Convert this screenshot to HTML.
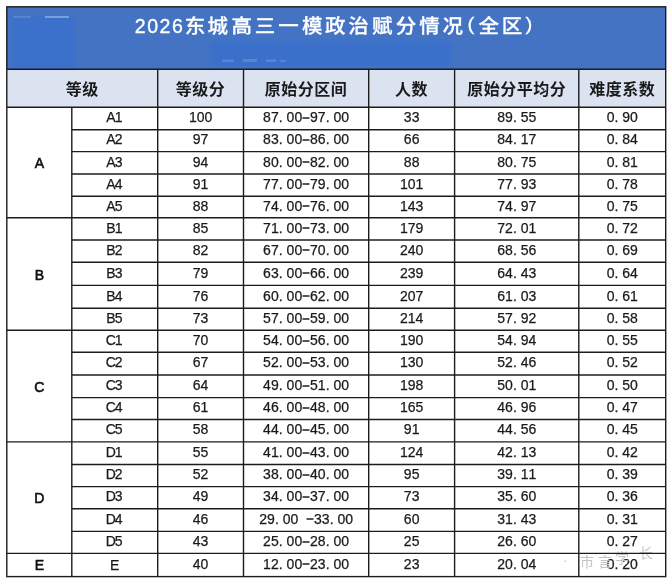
<!DOCTYPE html><html><head><meta charset="utf-8"><style>
html,body{margin:0;padding:0;background:#fff;width:672px;height:583px;overflow:hidden}
svg{display:block}
.t{font-family:"Liberation Sans","Noto Sans CJK SC",sans-serif;fill:#fff;font-size:19.5px}
.tc{font-family:"Liberation Sans","Noto Sans CJK SC",sans-serif;fill:#fff;font-size:19px;font-weight:500}
.h{font-family:"Liberation Sans","Noto Sans CJK SC",sans-serif;font-weight:bold;fill:#1a1a1a;font-size:16px;letter-spacing:0.5px}
.n{font-family:"Liberation Sans","Noto Sans CJK SC",sans-serif;fill:#1a1a1a;font-size:14px;stroke:#1a1a1a;stroke-width:0.25px}
.g{font-family:"Liberation Sans","Noto Sans CJK SC",sans-serif;fill:#111;font-size:14px;stroke:#111;stroke-width:0.6px}
.hy{font-family:IPAGothic,"Noto Sans CJK JP",sans-serif;font-size:16px;stroke-width:0.3px}
.w{font-family:"Liberation Sans","Noto Sans CJK SC",sans-serif;fill:#c4c4c4;font-size:14px}
</style></head><body>
<svg width="672" height="583" viewBox="0 0 672 583">
<rect x="6.8" y="6.8" width="658.9000000000001" height="62.5" fill="#4373c2"/>
<rect x="6.8" y="69.3" width="658.9000000000001" height="37.900000000000006" fill="#dce3f0"/>
<defs><filter id="bl" x="-20%" y="-20%" width="140%" height="140%"><feGaussianBlur stdDeviation="1.5"/></filter><filter id="bl2" x="-50%" y="-100%" width="200%" height="300%"><feGaussianBlur stdDeviation="0.7"/></filter></defs>
<rect x="12" y="16.5" width="63" height="51.5" fill="#3a6fcb" filter="url(#bl)"/>
<rect x="13" y="16.2" width="18" height="1.4" fill="#9fbcec" opacity="0.35" filter="url(#bl2)"/>
<rect x="45" y="16.2" width="24" height="1.6" fill="#a9c3ee" opacity="0.7" filter="url(#bl2)"/>
<rect x="209" y="41" width="243" height="25" rx="9" fill="#3b6fca" filter="url(#bl)"/>
<g fill="#c9d8f3" opacity="0.2" filter="url(#bl2)"><rect x="222" y="59.5" width="12" height="2.5"/><rect x="243" y="59" width="14" height="3"/><rect x="266" y="59.5" width="10" height="2.5"/><rect x="280" y="60" width="6" height="2"/></g>
<text class="t" stroke="#fff" stroke-width="0.35" y="32.7" x="134.83 147.13 159.43 171.93">2026</text>
<text class="tc" stroke="#fff" stroke-width="0.25" transform="scale(1.08 1)" y="33.1 33.1 33.1 33.1 33.1 33.1 33.1 33.1 33.1 33.1 33.1 33.1 30.4 33.1 33.1 30.4" x="171.04 192.03 214.30 235.78 257.54 279.57 300.96 322.44 344.48 366.43 388.09 409.81 432.86 442.95 464.67 486.55">东城高三一模政治赋分情况(全区)</text>
<text class="h" x="82.2" y="95" text-anchor="middle">等级</text>
<text class="h" x="200.6" y="95" text-anchor="middle">等级分</text>
<text class="h" x="306.1" y="95" text-anchor="middle">原始分区间</text>
<text class="h" x="411.6" y="95" text-anchor="middle">人数</text>
<text class="h" x="516.7" y="95" text-anchor="middle">原始分平均分</text>
<text class="h" x="622.2" y="95" text-anchor="middle">难度系数</text>
<text class="n" x="106.17 114.77" y="122.15" xml:space="preserve">A1</text>
<text class="n" x="188.89 196.71 204.53" y="122.15" xml:space="preserve">100</text>
<text class="n" x="263.11 270.93 278.83 286.57 294.39 302.10 310.03 317.85 325.75 333.49 341.31" y="122.15" xml:space="preserve">87.00<tspan class="hy" dy="1.6">-</tspan><tspan dy="-1.6">9</tspan>7.00</text>
<text class="n" x="403.85 411.67" y="122.15" xml:space="preserve">33</text>
<text class="n" x="497.17 504.99 512.89 520.63 528.45" y="122.15" xml:space="preserve">89.55</text>
<text class="n" x="606.63 614.53 622.27 630.09" y="122.15" xml:space="preserve">0.90</text>
<text class="n" x="106.17 114.77" y="144.35" xml:space="preserve">A2</text>
<text class="n" x="192.80 200.62" y="144.35" xml:space="preserve">97</text>
<text class="n" x="263.11 270.93 278.83 286.57 294.39 302.10 310.03 317.85 325.75 333.49 341.31" y="144.35" xml:space="preserve">83.00<tspan class="hy" dy="1.6">-</tspan><tspan dy="-1.6">8</tspan>6.00</text>
<text class="n" x="403.85 411.67" y="144.35" xml:space="preserve">66</text>
<text class="n" x="497.17 504.99 512.89 520.63 528.45" y="144.35" xml:space="preserve">84.17</text>
<text class="n" x="606.63 614.53 622.27 630.09" y="144.35" xml:space="preserve">0.84</text>
<text class="n" x="106.17 114.77" y="166.50" xml:space="preserve">A3</text>
<text class="n" x="192.80 200.62" y="166.50" xml:space="preserve">94</text>
<text class="n" x="263.11 270.93 278.83 286.57 294.39 302.10 310.03 317.85 325.75 333.49 341.31" y="166.50" xml:space="preserve">80.00<tspan class="hy" dy="1.6">-</tspan><tspan dy="-1.6">8</tspan>2.00</text>
<text class="n" x="403.85 411.67" y="166.50" xml:space="preserve">88</text>
<text class="n" x="497.17 504.99 512.89 520.63 528.45" y="166.50" xml:space="preserve">80.75</text>
<text class="n" x="606.63 614.53 622.27 630.09" y="166.50" xml:space="preserve">0.81</text>
<text class="n" x="106.17 114.77" y="188.85" xml:space="preserve">A4</text>
<text class="n" x="192.80 200.62" y="188.85" xml:space="preserve">91</text>
<text class="n" x="263.11 270.93 278.83 286.57 294.39 302.10 310.03 317.85 325.75 333.49 341.31" y="188.85" xml:space="preserve">77.00<tspan class="hy" dy="1.6">-</tspan><tspan dy="-1.6">7</tspan>9.00</text>
<text class="n" x="399.94 407.76 415.58" y="188.85" xml:space="preserve">101</text>
<text class="n" x="497.17 504.99 512.89 520.63 528.45" y="188.85" xml:space="preserve">77.93</text>
<text class="n" x="606.63 614.53 622.27 630.09" y="188.85" xml:space="preserve">0.78</text>
<text class="n" x="106.17 114.77" y="210.70" xml:space="preserve">A5</text>
<text class="n" x="192.80 200.62" y="210.70" xml:space="preserve">88</text>
<text class="n" x="263.11 270.93 278.83 286.57 294.39 302.10 310.03 317.85 325.75 333.49 341.31" y="210.70" xml:space="preserve">74.00<tspan class="hy" dy="1.6">-</tspan><tspan dy="-1.6">7</tspan>6.00</text>
<text class="n" x="399.94 407.76 415.58" y="210.70" xml:space="preserve">143</text>
<text class="n" x="497.17 504.99 512.89 520.63 528.45" y="210.70" xml:space="preserve">74.97</text>
<text class="n" x="606.63 614.53 622.27 630.09" y="210.70" xml:space="preserve">0.75</text>
<text class="n" x="106.17 114.77" y="232.55" xml:space="preserve">B1</text>
<text class="n" x="192.80 200.62" y="232.55" xml:space="preserve">85</text>
<text class="n" x="263.11 270.93 278.83 286.57 294.39 302.10 310.03 317.85 325.75 333.49 341.31" y="232.55" xml:space="preserve">71.00<tspan class="hy" dy="1.6">-</tspan><tspan dy="-1.6">7</tspan>3.00</text>
<text class="n" x="399.94 407.76 415.58" y="232.55" xml:space="preserve">179</text>
<text class="n" x="497.17 504.99 512.89 520.63 528.45" y="232.55" xml:space="preserve">72.01</text>
<text class="n" x="606.63 614.53 622.27 630.09" y="232.55" xml:space="preserve">0.72</text>
<text class="n" x="106.17 114.77" y="254.85" xml:space="preserve">B2</text>
<text class="n" x="192.80 200.62" y="254.85" xml:space="preserve">82</text>
<text class="n" x="263.11 270.93 278.83 286.57 294.39 302.10 310.03 317.85 325.75 333.49 341.31" y="254.85" xml:space="preserve">67.00<tspan class="hy" dy="1.6">-</tspan><tspan dy="-1.6">7</tspan>0.00</text>
<text class="n" x="399.94 407.76 415.58" y="254.85" xml:space="preserve">240</text>
<text class="n" x="497.17 504.99 512.89 520.63 528.45" y="254.85" xml:space="preserve">68.56</text>
<text class="n" x="606.63 614.53 622.27 630.09" y="254.85" xml:space="preserve">0.69</text>
<text class="n" x="106.17 114.77" y="277.55" xml:space="preserve">B3</text>
<text class="n" x="192.80 200.62" y="277.55" xml:space="preserve">79</text>
<text class="n" x="263.11 270.93 278.83 286.57 294.39 302.10 310.03 317.85 325.75 333.49 341.31" y="277.55" xml:space="preserve">63.00<tspan class="hy" dy="1.6">-</tspan><tspan dy="-1.6">6</tspan>6.00</text>
<text class="n" x="399.94 407.76 415.58" y="277.55" xml:space="preserve">239</text>
<text class="n" x="497.17 504.99 512.89 520.63 528.45" y="277.55" xml:space="preserve">64.43</text>
<text class="n" x="606.63 614.53 622.27 630.09" y="277.55" xml:space="preserve">0.64</text>
<text class="n" x="106.17 114.77" y="300.50" xml:space="preserve">B4</text>
<text class="n" x="192.80 200.62" y="300.50" xml:space="preserve">76</text>
<text class="n" x="263.11 270.93 278.83 286.57 294.39 302.10 310.03 317.85 325.75 333.49 341.31" y="300.50" xml:space="preserve">60.00<tspan class="hy" dy="1.6">-</tspan><tspan dy="-1.6">6</tspan>2.00</text>
<text class="n" x="399.94 407.76 415.58" y="300.50" xml:space="preserve">207</text>
<text class="n" x="497.17 504.99 512.89 520.63 528.45" y="300.50" xml:space="preserve">61.03</text>
<text class="n" x="606.63 614.53 622.27 630.09" y="300.50" xml:space="preserve">0.61</text>
<text class="n" x="106.17 114.77" y="322.90" xml:space="preserve">B5</text>
<text class="n" x="192.80 200.62" y="322.90" xml:space="preserve">73</text>
<text class="n" x="263.11 270.93 278.83 286.57 294.39 302.10 310.03 317.85 325.75 333.49 341.31" y="322.90" xml:space="preserve">57.00<tspan class="hy" dy="1.6">-</tspan><tspan dy="-1.6">5</tspan>9.00</text>
<text class="n" x="399.94 407.76 415.58" y="322.90" xml:space="preserve">214</text>
<text class="n" x="497.17 504.99 512.89 520.63 528.45" y="322.90" xml:space="preserve">57.92</text>
<text class="n" x="606.63 614.53 622.27 630.09" y="322.90" xml:space="preserve">0.58</text>
<text class="n" x="105.79 114.77" y="344.95" xml:space="preserve">C1</text>
<text class="n" x="192.80 200.62" y="344.95" xml:space="preserve">70</text>
<text class="n" x="263.11 270.93 278.83 286.57 294.39 302.10 310.03 317.85 325.75 333.49 341.31" y="344.95" xml:space="preserve">54.00<tspan class="hy" dy="1.6">-</tspan><tspan dy="-1.6">5</tspan>6.00</text>
<text class="n" x="399.94 407.76 415.58" y="344.95" xml:space="preserve">190</text>
<text class="n" x="497.17 504.99 512.89 520.63 528.45" y="344.95" xml:space="preserve">54.94</text>
<text class="n" x="606.63 614.53 622.27 630.09" y="344.95" xml:space="preserve">0.55</text>
<text class="n" x="105.79 114.77" y="367.35" xml:space="preserve">C2</text>
<text class="n" x="192.80 200.62" y="367.35" xml:space="preserve">67</text>
<text class="n" x="263.11 270.93 278.83 286.57 294.39 302.10 310.03 317.85 325.75 333.49 341.31" y="367.35" xml:space="preserve">52.00<tspan class="hy" dy="1.6">-</tspan><tspan dy="-1.6">5</tspan>3.00</text>
<text class="n" x="399.94 407.76 415.58" y="367.35" xml:space="preserve">130</text>
<text class="n" x="497.17 504.99 512.89 520.63 528.45" y="367.35" xml:space="preserve">52.46</text>
<text class="n" x="606.63 614.53 622.27 630.09" y="367.35" xml:space="preserve">0.52</text>
<text class="n" x="105.79 114.77" y="390.00" xml:space="preserve">C3</text>
<text class="n" x="192.80 200.62" y="390.00" xml:space="preserve">64</text>
<text class="n" x="263.11 270.93 278.83 286.57 294.39 302.10 310.03 317.85 325.75 333.49 341.31" y="390.00" xml:space="preserve">49.00<tspan class="hy" dy="1.6">-</tspan><tspan dy="-1.6">5</tspan>1.00</text>
<text class="n" x="399.94 407.76 415.58" y="390.00" xml:space="preserve">198</text>
<text class="n" x="497.17 504.99 512.89 520.63 528.45" y="390.00" xml:space="preserve">50.01</text>
<text class="n" x="606.63 614.53 622.27 630.09" y="390.00" xml:space="preserve">0.50</text>
<text class="n" x="105.79 114.77" y="412.25" xml:space="preserve">C4</text>
<text class="n" x="192.80 200.62" y="412.25" xml:space="preserve">61</text>
<text class="n" x="263.11 270.93 278.83 286.57 294.39 302.10 310.03 317.85 325.75 333.49 341.31" y="412.25" xml:space="preserve">46.00<tspan class="hy" dy="1.6">-</tspan><tspan dy="-1.6">4</tspan>8.00</text>
<text class="n" x="399.94 407.76 415.58" y="412.25" xml:space="preserve">165</text>
<text class="n" x="497.17 504.99 512.89 520.63 528.45" y="412.25" xml:space="preserve">46.96</text>
<text class="n" x="606.63 614.53 622.27 630.09" y="412.25" xml:space="preserve">0.47</text>
<text class="n" x="105.79 114.77" y="434.40" xml:space="preserve">C5</text>
<text class="n" x="192.80 200.62" y="434.40" xml:space="preserve">58</text>
<text class="n" x="263.11 270.93 278.83 286.57 294.39 302.10 310.03 317.85 325.75 333.49 341.31" y="434.40" xml:space="preserve">44.00<tspan class="hy" dy="1.6">-</tspan><tspan dy="-1.6">4</tspan>5.00</text>
<text class="n" x="403.85 411.67" y="434.40" xml:space="preserve">91</text>
<text class="n" x="497.17 504.99 512.89 520.63 528.45" y="434.40" xml:space="preserve">44.56</text>
<text class="n" x="606.63 614.53 622.27 630.09" y="434.40" xml:space="preserve">0.45</text>
<text class="n" x="105.79 114.77" y="456.90" xml:space="preserve">D1</text>
<text class="n" x="192.80 200.62" y="456.90" xml:space="preserve">55</text>
<text class="n" x="263.11 270.93 278.83 286.57 294.39 302.10 310.03 317.85 325.75 333.49 341.31" y="456.90" xml:space="preserve">41.00<tspan class="hy" dy="1.6">-</tspan><tspan dy="-1.6">4</tspan>3.00</text>
<text class="n" x="399.94 407.76 415.58" y="456.90" xml:space="preserve">124</text>
<text class="n" x="497.17 504.99 512.89 520.63 528.45" y="456.90" xml:space="preserve">42.13</text>
<text class="n" x="606.63 614.53 622.27 630.09" y="456.90" xml:space="preserve">0.42</text>
<text class="n" x="105.79 114.77" y="479.25" xml:space="preserve">D2</text>
<text class="n" x="192.80 200.62" y="479.25" xml:space="preserve">52</text>
<text class="n" x="263.11 270.93 278.83 286.57 294.39 302.10 310.03 317.85 325.75 333.49 341.31" y="479.25" xml:space="preserve">38.00<tspan class="hy" dy="1.6">-</tspan><tspan dy="-1.6">4</tspan>0.00</text>
<text class="n" x="403.85 411.67" y="479.25" xml:space="preserve">95</text>
<text class="n" x="497.17 504.99 512.89 520.63 528.45" y="479.25" xml:space="preserve">39.11</text>
<text class="n" x="606.63 614.53 622.27 630.09" y="479.25" xml:space="preserve">0.39</text>
<text class="n" x="105.79 114.77" y="501.35" xml:space="preserve">D3</text>
<text class="n" x="192.80 200.62" y="501.35" xml:space="preserve">49</text>
<text class="n" x="263.11 270.93 278.83 286.57 294.39 302.10 310.03 317.85 325.75 333.49 341.31" y="501.35" xml:space="preserve">34.00<tspan class="hy" dy="1.6">-</tspan><tspan dy="-1.6">3</tspan>7.00</text>
<text class="n" x="403.85 411.67" y="501.35" xml:space="preserve">73</text>
<text class="n" x="497.17 504.99 512.89 520.63 528.45" y="501.35" xml:space="preserve">35.60</text>
<text class="n" x="606.63 614.53 622.27 630.09" y="501.35" xml:space="preserve">0.36</text>
<text class="n" x="105.79 114.77" y="523.75" xml:space="preserve">D4</text>
<text class="n" x="192.80 200.62" y="523.75" xml:space="preserve">46</text>
<text class="n" x="259.20 267.02 274.92 282.66 290.48 300.24 306.01 313.94 321.76 329.66 337.40 345.22" y="523.75" xml:space="preserve">29.00 <tspan class="hy" dy="1.6">-</tspan><tspan dy="-1.6">3</tspan>3.00</text>
<text class="n" x="403.85 411.67" y="523.75" xml:space="preserve">60</text>
<text class="n" x="497.17 504.99 512.89 520.63 528.45" y="523.75" xml:space="preserve">31.43</text>
<text class="n" x="606.63 614.53 622.27 630.09" y="523.75" xml:space="preserve">0.31</text>
<text class="n" x="105.79 114.77" y="546.10" xml:space="preserve">D5</text>
<text class="n" x="192.80 200.62" y="546.10" xml:space="preserve">43</text>
<text class="n" x="263.11 270.93 278.83 286.57 294.39 302.10 310.03 317.85 325.75 333.49 341.31" y="546.10" xml:space="preserve">25.00<tspan class="hy" dy="1.6">-</tspan><tspan dy="-1.6">2</tspan>8.00</text>
<text class="n" x="403.85 411.67" y="546.10" xml:space="preserve">25</text>
<text class="n" x="497.17 504.99 512.89 520.63 528.45" y="546.10" xml:space="preserve">26.60</text>
<text class="n" x="606.63 614.53 622.27 630.09" y="546.10" xml:space="preserve">0.27</text>
<text class="n" x="110.08" y="570.30" xml:space="preserve">E</text>
<text class="g" x="34.63" y="570.30" xml:space="preserve">E</text>
<text class="n" x="192.80 200.62" y="568.70" xml:space="preserve">40</text>
<text class="n" x="263.11 270.93 278.83 286.57 294.39 302.10 310.03 317.85 325.75 333.49 341.31" y="568.70" xml:space="preserve">12.00<tspan class="hy" dy="1.6">-</tspan><tspan dy="-1.6">2</tspan>3.00</text>
<text class="n" x="403.85 411.67" y="568.70" xml:space="preserve">23</text>
<text class="n" x="497.17 504.99 512.89 520.63 528.45" y="568.70" xml:space="preserve">20.04</text>
<text class="n" x="606.63 614.53 622.27 630.09" y="568.70" xml:space="preserve">0.20</text>
<text class="g" x="34.63" y="168.05" xml:space="preserve">A</text>
<text class="g" x="34.63" y="279.55" xml:space="preserve">B</text>
<text class="g" x="34.25" y="391.65" xml:space="preserve">C</text>
<text class="g" x="34.25" y="503.25" xml:space="preserve">D</text>
<text class="w" x="563 580 598 615 639" y="565 567 567 563 558">·市言学长</text>
<g stroke="#1c1c1c" stroke-width="1.4" fill="none">
<rect x="6.8" y="6.8" width="658.9000000000001" height="569.8000000000001"/>
<line x1="6.8" y1="69.3" x2="665.7" y2="69.3"/>
<line x1="6.8" y1="107.2" x2="665.7" y2="107.2"/>
<line x1="71.8" y1="129.7" x2="665.7" y2="129.7"/>
<line x1="71.8" y1="151.6" x2="665.7" y2="151.6"/>
<line x1="71.8" y1="174" x2="665.7" y2="174"/>
<line x1="71.8" y1="196.3" x2="665.7" y2="196.3"/>
<line x1="6.8" y1="217.7" x2="665.7" y2="217.7"/>
<line x1="71.8" y1="240" x2="665.7" y2="240"/>
<line x1="71.8" y1="262.3" x2="665.7" y2="262.3"/>
<line x1="71.8" y1="285.4" x2="665.7" y2="285.4"/>
<line x1="71.8" y1="308.2" x2="665.7" y2="308.2"/>
<line x1="6.8" y1="330.2" x2="665.7" y2="330.2"/>
<line x1="71.8" y1="352.3" x2="665.7" y2="352.3"/>
<line x1="71.8" y1="375" x2="665.7" y2="375"/>
<line x1="71.8" y1="397.6" x2="665.7" y2="397.6"/>
<line x1="71.8" y1="419.5" x2="665.7" y2="419.5"/>
<line x1="6.8" y1="441.9" x2="665.7" y2="441.9"/>
<line x1="71.8" y1="464.5" x2="665.7" y2="464.5"/>
<line x1="71.8" y1="486.6" x2="665.7" y2="486.6"/>
<line x1="71.8" y1="508.7" x2="665.7" y2="508.7"/>
<line x1="71.8" y1="531.4" x2="665.7" y2="531.4"/>
<line x1="6.8" y1="553.4" x2="665.7" y2="553.4"/>
<line x1="71.8" y1="107.2" x2="71.8" y2="576.6"/>
<line x1="157.7" y1="69.3" x2="157.7" y2="576.6"/>
<line x1="243.5" y1="69.3" x2="243.5" y2="576.6"/>
<line x1="368.7" y1="69.3" x2="368.7" y2="576.6"/>
<line x1="454.6" y1="69.3" x2="454.6" y2="576.6"/>
<line x1="578.8" y1="69.3" x2="578.8" y2="576.6"/>
</g>
</svg></body></html>
